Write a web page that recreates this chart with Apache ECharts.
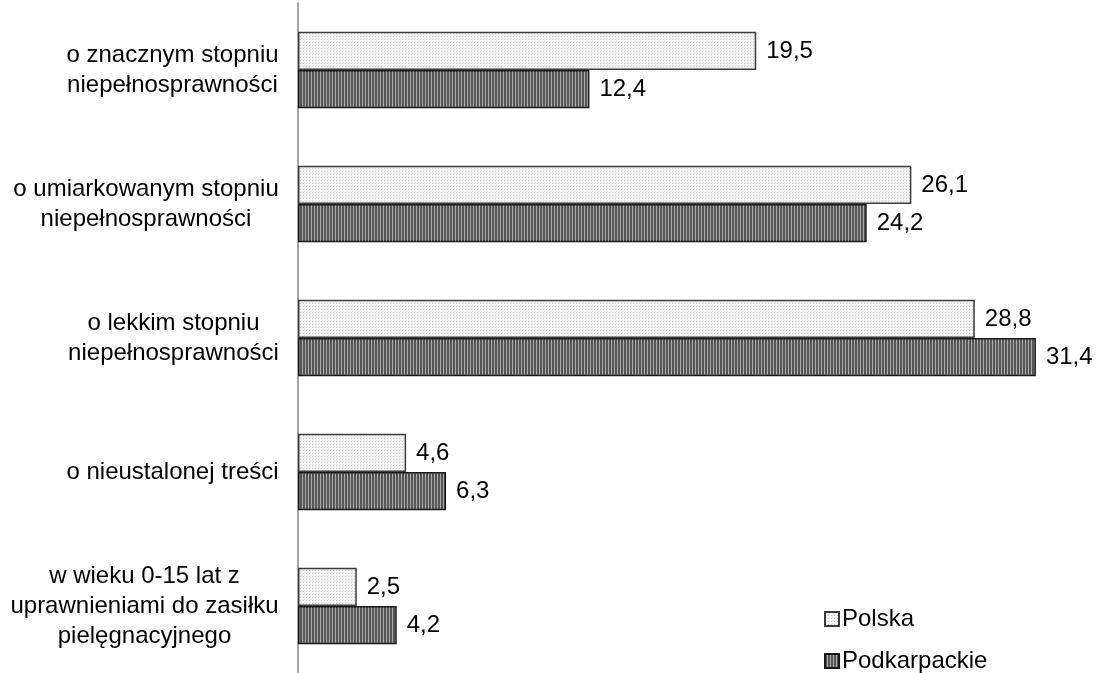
<!DOCTYPE html>
<html>
<head>
<meta charset="utf-8">
<script src="https://cdn.jsdelivr.net/npm/echarts@6/dist/echarts.min.js"></script>
<style>
html,body{margin:0;padding:0;background:#fff;}
#chart{width:1097px;height:673px;}
</style>
</head>
<body>
<div id="chart"></div>
<script>
const categories = [
  'o znacznym stopniu\nniepełnosprawności',
  'o umiarkowanym stopniu\nniepełnosprawności',
  'o lekkim stopniu\nniepełnosprawności',
  'o nieustalonej treści',
  'w wieku 0-15 lat z\nuprawnieniami do zasiłku\npielęgnacyjnego'
];
const seriesNames = ['Polska', 'Podkarpackie'];
const polska = [19.5, 26.1, 28.8, 4.6, 2.5];
const podkarpackie = [12.4, 24.2, 31.4, 6.3, 4.2];

function dotPattern() {
  const c = document.createElement('canvas');
  c.width = 3; c.height = 3;
  const g = c.getContext('2d');
  g.fillStyle = '#f4f4f4'; g.fillRect(0, 0, 3, 3);
  g.fillStyle = '#cacaca'; g.fillRect(0, 0, 1, 1);
  g.fillStyle = '#e0e0e0'; g.fillRect(1, 2, 1, 1);
  return c;
}
function stripePattern() {
  const c = document.createElement('canvas');
  c.width = 3; c.height = 3;
  const g = c.getContext('2d');
  g.fillStyle = '#575757'; g.fillRect(0, 0, 3, 3);
  g.fillStyle = '#a8a8a8'; g.fillRect(2, 0, 1, 3);
  return c;
}
const FONT = 'Liberation Sans, Arial, sans-serif';
const FS = 24;
const fmt = p => String(p.value).replace('.', ',');

// block-centred multi-line category labels (lines centred within a right-aligned block)
const mctx = document.createElement('canvas').getContext('2d');
mctx.font = FS + 'px ' + FONT;
const rich = {};
categories.forEach((c, i) => {
  const w = Math.max.apply(null, c.split('\n').map(l => mctx.measureText(l).width));
  rich['c' + i] = {width: Math.ceil(w), align: 'center', fontSize: FS, fontFamily: FONT, color: '#000', lineHeight: 30};
});
function catLabel(value, idx) {
  return value.split('\n').map(l => '{c' + idx + '|' + l + '}').join('\n');
}

const chart = echarts.init(document.getElementById('chart'), null, {renderer: 'canvas'});
chart.setOption({
  animation: false,
  backgroundColor: '#fff',
  grid: {left: 298, right: 0, top: 3, height: 675},
  xAxis: {type: 'value', min: 0, max: 34, show: false},
  yAxis: {
    type: 'category',
    data: categories,
    inverse: true,
    axisLine: {show: true, lineStyle: {color: '#a6a6a6', width: 2}},
    axisTick: {show: false},
    splitLine: {show: false},
    axisLabel: {
      color: '#000', fontSize: FS, fontFamily: FONT, lineHeight: 30,
      align: 'right', margin: 19,
      formatter: catLabel, rich: rich
    }
  },
  legend: {
    orient: 'vertical', left: 819, top: 602, height: 120,
    icon: 'rect',
    itemWidth: 14, itemHeight: 14, itemGap: 18,
    textStyle: {color: '#000', fontSize: FS, fontFamily: FONT, padding: [0, 0, 0, -2]},
    data: seriesNames
  },
  series: [
    {
      name: seriesNames[0], type: 'bar', data: polska,
      barGap: '0%', barCategoryGap: '43%',
      itemStyle: {color: {image: dotPattern(), repeat: 'repeat'}, borderColor: '#3c3c3c', borderWidth: 1.5},
      label: {show: true, position: 'right', distance: 10, formatter: fmt, color: '#000', fontSize: FS, fontFamily: FONT}
    },
    {
      name: seriesNames[1], type: 'bar', data: podkarpackie,
      barGap: '0%', barCategoryGap: '43%',
      itemStyle: {color: {image: stripePattern(), repeat: 'repeat'}, borderColor: '#1a1a1a', borderWidth: 1.5},
      label: {show: true, position: 'right', distance: 10, formatter: fmt, color: '#000', fontSize: FS, fontFamily: FONT}
    }
  ]
});
</script>
</body>
</html>
